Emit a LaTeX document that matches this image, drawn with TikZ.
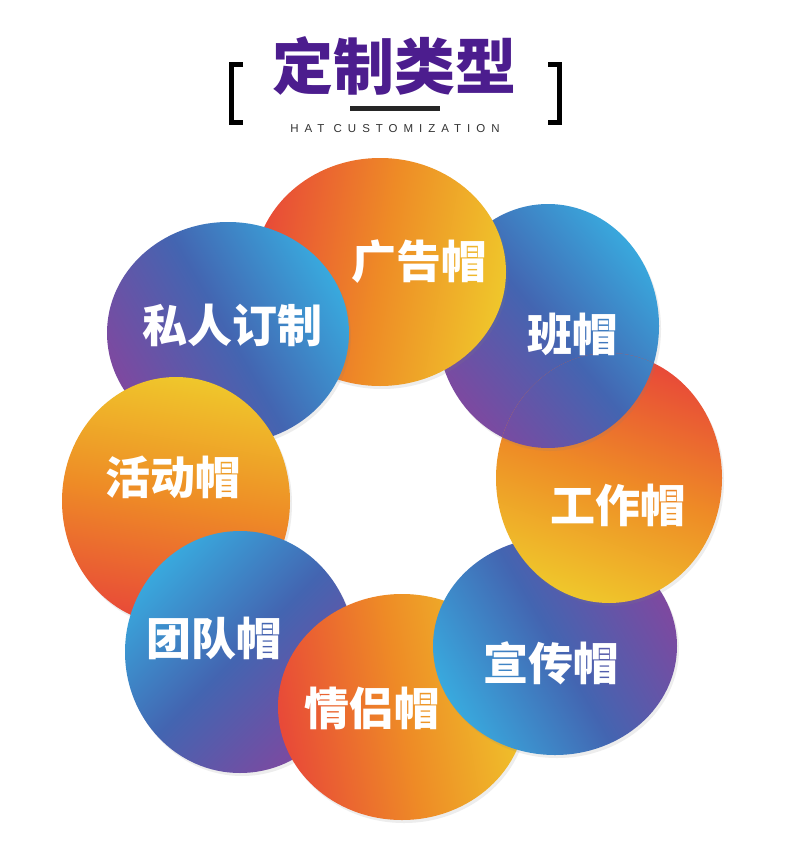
\documentclass[tikz,border=0pt]{standalone}
\usepackage{fontspec}
\usetikzlibrary{shadows}
\newfontfamily\cjk{Noto Sans CJK SC}
\newfontfamily\subfont[LetterSpace=52]{Liberation Sans}
\definecolor{hatred}{HTML}{E84A38}
\definecolor{hatorange}{HTML}{EE8B26}
\definecolor{hatyellow}{HTML}{EFC62B}
\definecolor{hatsky}{HTML}{39A8DD}
\definecolor{hatblue}{HTML}{4365B1}
\definecolor{hatviolet}{HTML}{7D49A0}
\definecolor{titlepurple}{HTML}{4C1D8E}
\tikzset{
    blob/.style={drop shadow={shadow xshift=2pt,shadow yshift=-3pt,opacity=.14}},
    warm/.style={blob,top color=hatyellow,bottom color=hatred,middle color=hatorange,shading angle=#1},
    cool/.style={blob,top color=hatsky,bottom color=hatviolet,middle color=hatblue,shading angle=#1},
    lab/.style={text=white,font=\cjk\bfseries\fontsize{45}{45}\selectfont}
}

% --- blob outlines (pixel grid, y downwards) ---
\def\shapeAd{(380,272) ellipse [x radius=126, y radius=114]}
\def\shapeClass{(548,326) ellipse [x radius=111, y radius=122]}
\def\shapeWork{(609,478) ellipse [x radius=113, y radius=125]}
\def\shapePromo{(555,646) ellipse [x radius=122, y radius=109]}
\def\shapeCouple{(402,707) ellipse [x radius=124, y radius=113]}
\def\shapeTeam{(240,652) ellipse [x radius=115, y radius=121]}
\def\shapeEvent{(176,501) ellipse [x radius=114, y radius=124]}
\def\shapePrivate{(228,333) ellipse [x radius=121, y radius=111]}

\begin{document}
\begin{tikzpicture}[x=1pt,y=-1pt,line join=miter]

    \useasboundingbox[fill=white] (0,0) rectangle (790,856);

% title with brackets
    \draw[line width=5pt] (243,64.5) -- (231.5,64.5) -- (231.5,122.5) -- (243,122.5);
    \draw[line width=5pt] (548,64.5) -- (559.5,64.5) -- (559.5,122.5) -- (548,122.5);
    \node[text=titlepurple,font=\cjk\bfseries\fontsize{61}{61}\selectfont] (title) at (394,66) {定制类型};
    \fill[black!85] (350,106) rectangle (440,111);
    \node[text=black!80,font=\subfont\fontsize{11.5}{11.5}\selectfont] (sub) at (395,128.5) {HAT CUSTOMIZATION};

% ring of blobs, each one over the next clockwise
    \path[cool=-50] \shapeClass;
    \path[warm=-100] \shapeAd;
    \path[cool=-60] \shapePrivate;
    \path[warm=-10] \shapeEvent;
    \path[cool=45] \shapeTeam;
    \path[warm=-80] \shapeCouple;
    \path[cool=120] \shapePromo;
    \path[warm=160] \shapeWork;
    \begin{scope}
        \clip \shapeWork;
        \path[cool=-50] \shapeClass;
    \end{scope}

% labels
    \node[lab] (ad) at (419,262) {广告帽};
    \node[lab] (class) at (572,334) {班帽};
    \node[lab] (work) at (618,505) {工作帽};
    \node[lab] (promo) at (551,663) {宣传帽};
    \node[lab] (couple) at (372,708) {情侣帽};
    \node[lab] (team) at (214,638) {团队帽};
    \node[lab] (event) at (173,477) {活动帽};
    \node[lab] (private) at (232,325) {私人订制};

\end{tikzpicture}
\end{document}
